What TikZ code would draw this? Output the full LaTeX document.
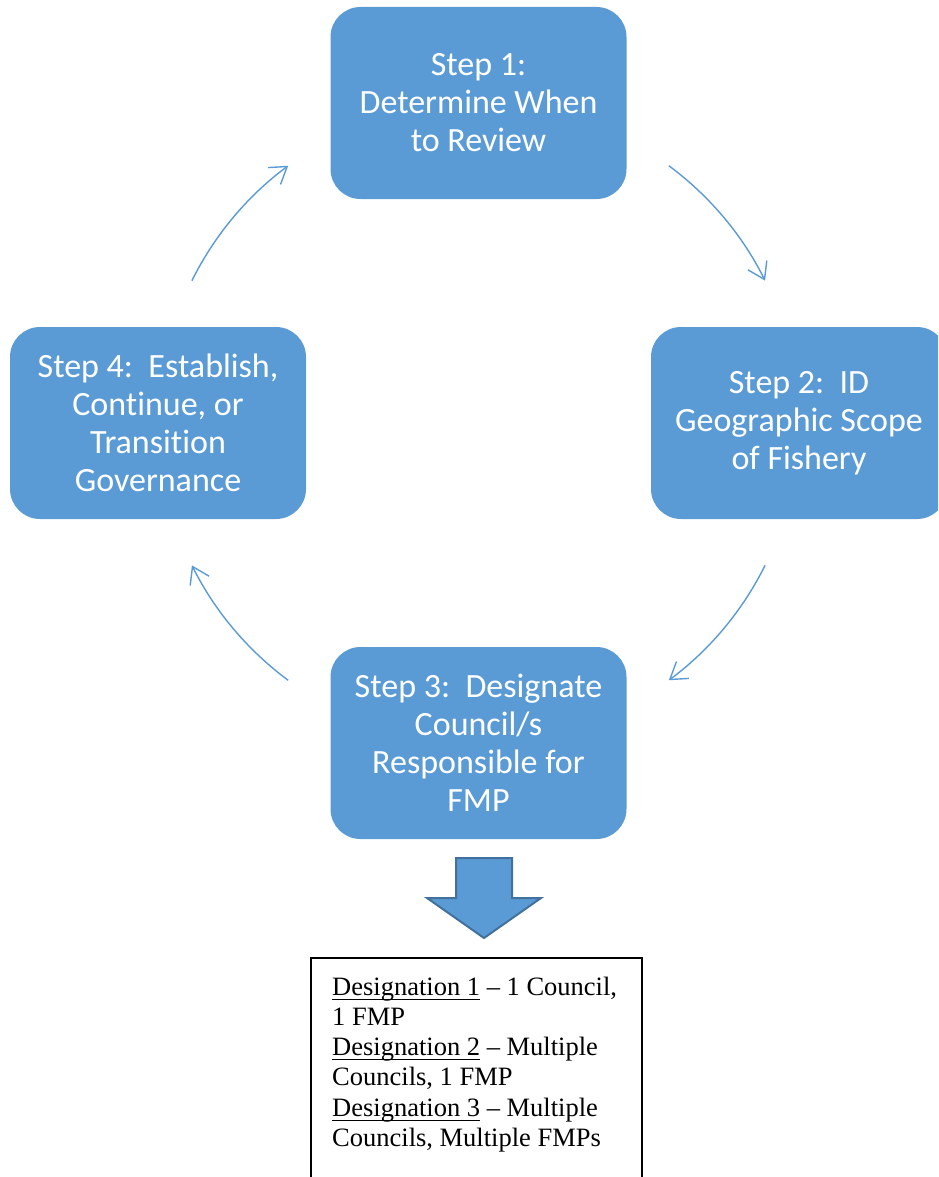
\documentclass[tikz,border=0pt]{standalone}
\usepackage{fontspec}
\setmainfont{Liberation Serif}
\newfontfamily\calib[Ligatures=NoCommon]{Carlito}
\usetikzlibrary{arrows.meta}
\definecolor{boxblue}{HTML}{5B9BD5}
\definecolor{boxedge}{HTML}{41719C}
\newcommand\myul[1]{\setbox0\hbox{#1}\rlap{\rule[-5pt]{\wd0}{1.4pt}}\box0\relax}
\begin{document}
\begin{tikzpicture}[x=1pt,y=-1pt,
  stepbox/.style={rectangle,rounded corners=30pt,fill=boxblue,draw=none,
    minimum width=296pt,minimum height=192pt,inner sep=0pt,
    text=white,align=center,font=\calib\fontsize{34}{38}\selectfont},
  cyc/.style={draw=boxblue,line width=1.4pt,
    -{Straight Barb[length=16pt,width=21pt,line width=1.4pt]}},
  desig/.style={anchor=base west,inner sep=0pt,font=\fontsize{26.5}{30}\selectfont}]
\useasboundingbox (0,0) rectangle (938,1177);
\clip (0,0) rectangle (938,1177);
\node[stepbox] (s1) at (478.5,103) {Step 1:\\Determine When\\to Review};
\node[stepbox] (s2) at (799,423) {Step 2:\ \ ID\\Geographic Scope\\of Fishery};
\node[stepbox] (s3) at (478.5,743) {Step 3:\ \ Designate\\Council/s\\Responsible for\\FMP};
\node[stepbox] (s4) at (158,423) {Step 4:\ \ Establish,\\Continue, or\\Transition\\Governance};
% cycle arrows (arcs of a circle about the centre)
\coordinate (a1) at (191.9,280.7);
\coordinate (a2) at (668.8,165.7);
\coordinate (a3) at (765.1,565.3);
\coordinate (a4) at (288.2,680.3);
\draw[cyc] (a1) arc[start angle=153.6,end angle=126.5,radius=320pt];
\draw[cyc] (a2) arc[start angle=53.5,end angle=26.4,radius=320pt];
\draw[cyc] (a3) arc[start angle=-26.4,end angle=-53.5,radius=320pt];
\draw[cyc] (a4) arc[start angle=233.5,end angle=206.4,radius=320pt];
% block arrow
\draw[fill=boxblue,draw=boxedge,line width=2pt,line join=miter]
  (456,858) -- (512,858) -- (512,898) -- (541,898) -- (484,938)
  -- (427,898) -- (456,898) -- cycle;
% designation box
\draw[line width=1.5pt] (311,1190) -- (311,958) -- (642,958) -- (642,1190);
\node[desig] (d1) at (332,995) {\myul{Designation 1} -- 1 Council,};
\node[desig] (d2) at (332,1025) {1 FMP};
\node[desig] (d3) at (332,1055) {\myul{Designation 2} -- Multiple};
\node[desig] (d4) at (332,1085) {Councils, 1 FMP};
\node[desig] (d5) at (332,1116) {\myul{Designation 3} -- Multiple};
\node[desig] (d6) at (332,1146) {Councils, Multiple FMPs};
\end{tikzpicture}
\end{document}
